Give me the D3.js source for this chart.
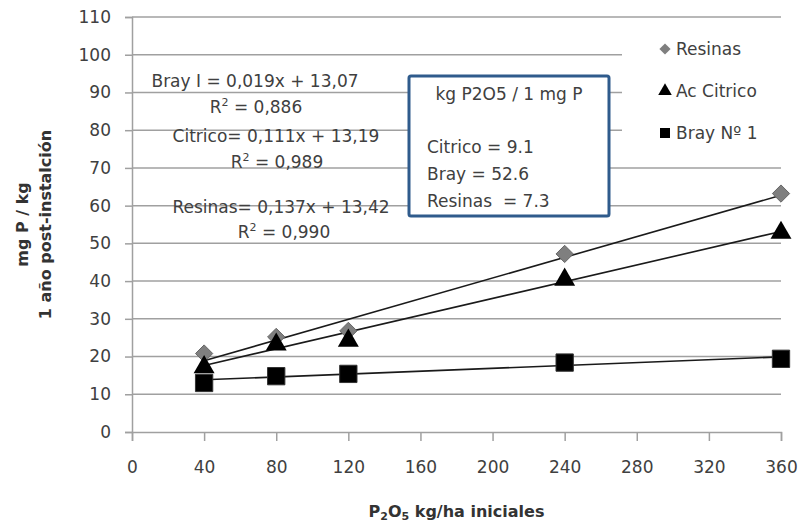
<!DOCTYPE html>
<html lang="es">
<head>
    <meta charset="UTF-8">
    <title>P extraible vs P2O5 aplicado</title>
    <style>
        body {
            margin: 0;
            background: #ffffff;
        }
        svg {
            display: block;
            font-family: "DejaVu Sans", sans-serif;
        }
        .grid line {
            stroke: #a0a0a0;
            stroke-width: 1.5px;
        }
        .note {
            font-size: 17px;
            fill: #404040;
        }
        .title {
            font-size: 16px;
            font-weight: bold;
            fill: #333333;
        }
    </style>
</head>
<body>
<svg width="800" height="523"></svg>

<script src="https://cdn.jsdelivr.net/npm/d3@7/dist/d3.min.js"></script>
<script>
    // Dosis de P2O5 (kg/ha) y P extraido por cada metodo
    const doses = [40, 80, 120, 240, 360];
    const resinas = [20.8, 25.2, 26.8, 47.2, 63.2];
    const citrico = [17.2, 23.2, 24.2, 40.4, 52.8];
    const bray = [13.0, 14.8, 15.4, 18.4, 19.4];

    // Rectas de ajuste (pendiente, ordenada) tal como se indican en el grafico
    const seriesNames = ["Resinas", "Ac Citrico", "Bray N\u00ba 1"];
    const slopes = [0.137, 0.111, 0.019];
    const intercepts = [13.42, 13.19, 13.07];

    const xTicks = [0, 40, 80, 120, 160, 200, 240, 280, 320, 360];
    const yTicks = [0, 10, 20, 30, 40, 50, 60, 70, 80, 90, 100, 110];

    const equations = [
        "Bray I = 0,019x + 13,07", "0,886",
        "Citrico= 0,111x + 13,19", "0,989",
        "Resinas= 0,137x + 13,42", "0,990"
    ];
    const boxLines = ["kg P2O5 / 1 mg P", "Citrico = 9.1", "Bray = 52.6", "Resinas  = 7.3"];

    const svg = d3.select("svg");

    const x = d3.scaleLinear().domain([0, 360]).range([132, 781]);
    const y = d3.scaleLinear().domain([0, 110]).range([432, 17]);

    // Lineas de grilla horizontales
    svg.append("g")
        .attr("class", "grid")
        .selectAll("line")
        .data(yTicks.slice(1))
        .join("line")
        .attr("x1", x(0))
        .attr("x2", x(360))
        .attr("y1", d => y(d))
        .attr("y2", d => y(d));

    // Eje Y
    const yAxis = svg.append("g")
        .attr("transform", `translate(${x(0)},0)`)
        .call(d3.axisLeft(y).tickValues(yTicks).tickSize(7).tickPadding(14));
    // Eje X
    const xAxis = svg.append("g")
        .attr("transform", `translate(0,${y(0)})`)
        .call(d3.axisBottom(x).tickValues(xTicks).tickSize(9).tickPadding(20));

    [yAxis, xAxis].forEach(ax => {
        ax.attr("font-size", null).attr("font-family", null);
        ax.select(".domain").attr("stroke", "#a0a0a0").attr("stroke-width", 1.5);
        ax.selectAll(".tick line").attr("stroke", "#a0a0a0").attr("stroke-width", 1.5);
        ax.selectAll(".tick text")
            .style("font-size", "17px")
            .style("font-family", "'DejaVu Sans', sans-serif")
            .attr("fill", "#404040");
    });
    xAxis.selectAll(".tick text").attr("dy", "0.71em");

    // Rectas de tendencia
    const trend = svg.append("g");
    slopes.forEach((m, i) => {
        const x0 = doses[0], x1 = doses[doses.length - 1];
        trend.append("line")
            .attr("x1", x(x0)).attr("y1", y(m * x0 + intercepts[i]))
            .attr("x2", x(x1)).attr("y2", y(m * x1 + intercepts[i]))
            .attr("stroke", "#1a1a1a")
            .attr("stroke-width", 1.6);
    });

    // Marcadores
    const diamond = d3.symbol().type(d3.symbolDiamond2);
    const triangle = d3.symbol().type(d3.symbolTriangle);
    const square = d3.symbol().type(d3.symbolSquare);

    svg.append("g").selectAll("path")
        .data(doses.map((d, i) => [d, resinas[i]]))
        .join("path")
        .attr("transform", d => `translate(${x(d[0])},${y(d[1])})`)
        .attr("d", diamond.size(190))
        .attr("fill", "#7f7f7f")
        .attr("stroke", "#666666")
        .attr("stroke-width", 1);

    svg.append("g").selectAll("path")
        .data(doses.map((d, i) => [d, citrico[i]]))
        .join("path")
        .attr("transform", d => `translate(${x(d[0])},${y(d[1])})`)
        .attr("d", triangle.size(190))
        .attr("fill", "#000000");

    svg.append("g").selectAll("path")
        .data(doses.map((d, i) => [d, bray[i]]))
        .join("path")
        .attr("transform", d => `translate(${x(d[0])},${y(d[1])})`)
        .attr("d", square.size(300))
        .attr("fill", "#000000")
        .attr("stroke", "#333333")
        .attr("stroke-width", 1);

    // Ecuaciones
    const eqPos = [
        [255, 87], [256, 113],
        [276, 142], [277, 168],
        [281, 213], [284, 238]
    ];
    equations.forEach((t, i) => {
        const txt = svg.append("text")
            .attr("class", "note")
            .attr("x", eqPos[i][0])
            .attr("y", eqPos[i][1])
            .attr("text-anchor", "middle");
        if (i % 2 === 0) {
            txt.text(t);
        } else {
            txt.append("tspan").text("R");
            txt.append("tspan").attr("font-size", 11).attr("dy", -7).text("2");
            txt.append("tspan").attr("dy", 7).text(" = " + t);
        }
    });

    // Leyenda (fondo blanco tapa la grilla)
    const legend = svg.append("g");
    legend.append("rect")
        .attr("x", 622).attr("y", 36)
        .attr("width", 178).attr("height", 114)
        .attr("fill", "#ffffff");
    const legendSymbols = [
        { d: diamond.size(80)(), fill: "#7f7f7f" },
        { d: triangle.size(80)(), fill: "#000000" },
        { d: square.size(100)(), fill: "#000000" }
    ];
    seriesNames.forEach((name, i) => {
        const ly = 49 + i * 42;
        legend.append("path")
            .attr("transform", `translate(665,${ly})`)
            .attr("d", legendSymbols[i].d)
            .attr("fill", legendSymbols[i].fill);
        legend.append("text")
            .attr("class", "note")
            .attr("x", 676)
            .attr("y", ly + 6)
            .text(name);
    });

    // Recuadro con kg P2O5 por mg P
    const box = svg.append("g");
    box.append("rect")
        .attr("x", 409).attr("y", 76)
        .attr("width", 200).attr("height", 140)
        .attr("rx", 2)
        .attr("fill", "#ffffff")
        .attr("stroke", "#2f5b8c")
        .attr("stroke-width", 3);
    const boxY = [100, 153, 180, 207];
    boxLines.forEach((t, i) => {
        box.append("text")
            .attr("class", "note")
            .attr("x", i === 0 ? 509 : 427)
            .attr("y", boxY[i])
            .attr("text-anchor", i === 0 ? "middle" : "start")
            .style("white-space", "pre")
            .text(t);
    });

    // Titulos de ejes
    const xt = svg.append("text")
        .attr("class", "title")
        .attr("x", (x(0) + x(360)) / 2)
        .attr("y", 517)
        .attr("text-anchor", "middle");
    xt.append("tspan").text("P");
    xt.append("tspan").attr("font-size", 11).attr("dy", 3).text("2");
    xt.append("tspan").attr("dy", -3).text("O");
    xt.append("tspan").attr("font-size", 11).attr("dy", 3).text("5");
    xt.append("tspan").attr("dy", -3).text(" kg/ha iniciales");

    const yMid = (y(0) + y(110)) / 2;
    svg.append("text")
        .attr("class", "title")
        .attr("transform", `translate(28,${yMid}) rotate(-90)`)
        .attr("text-anchor", "middle")
        .text("mg P / kg");
    svg.append("text")
        .attr("class", "title")
        .attr("transform", `translate(51,${yMid}) rotate(-90)`)
        .attr("text-anchor", "middle")
        .text("1 a\u00f1o post-instalci\u00f3n");
</script>
</body>
</html>
